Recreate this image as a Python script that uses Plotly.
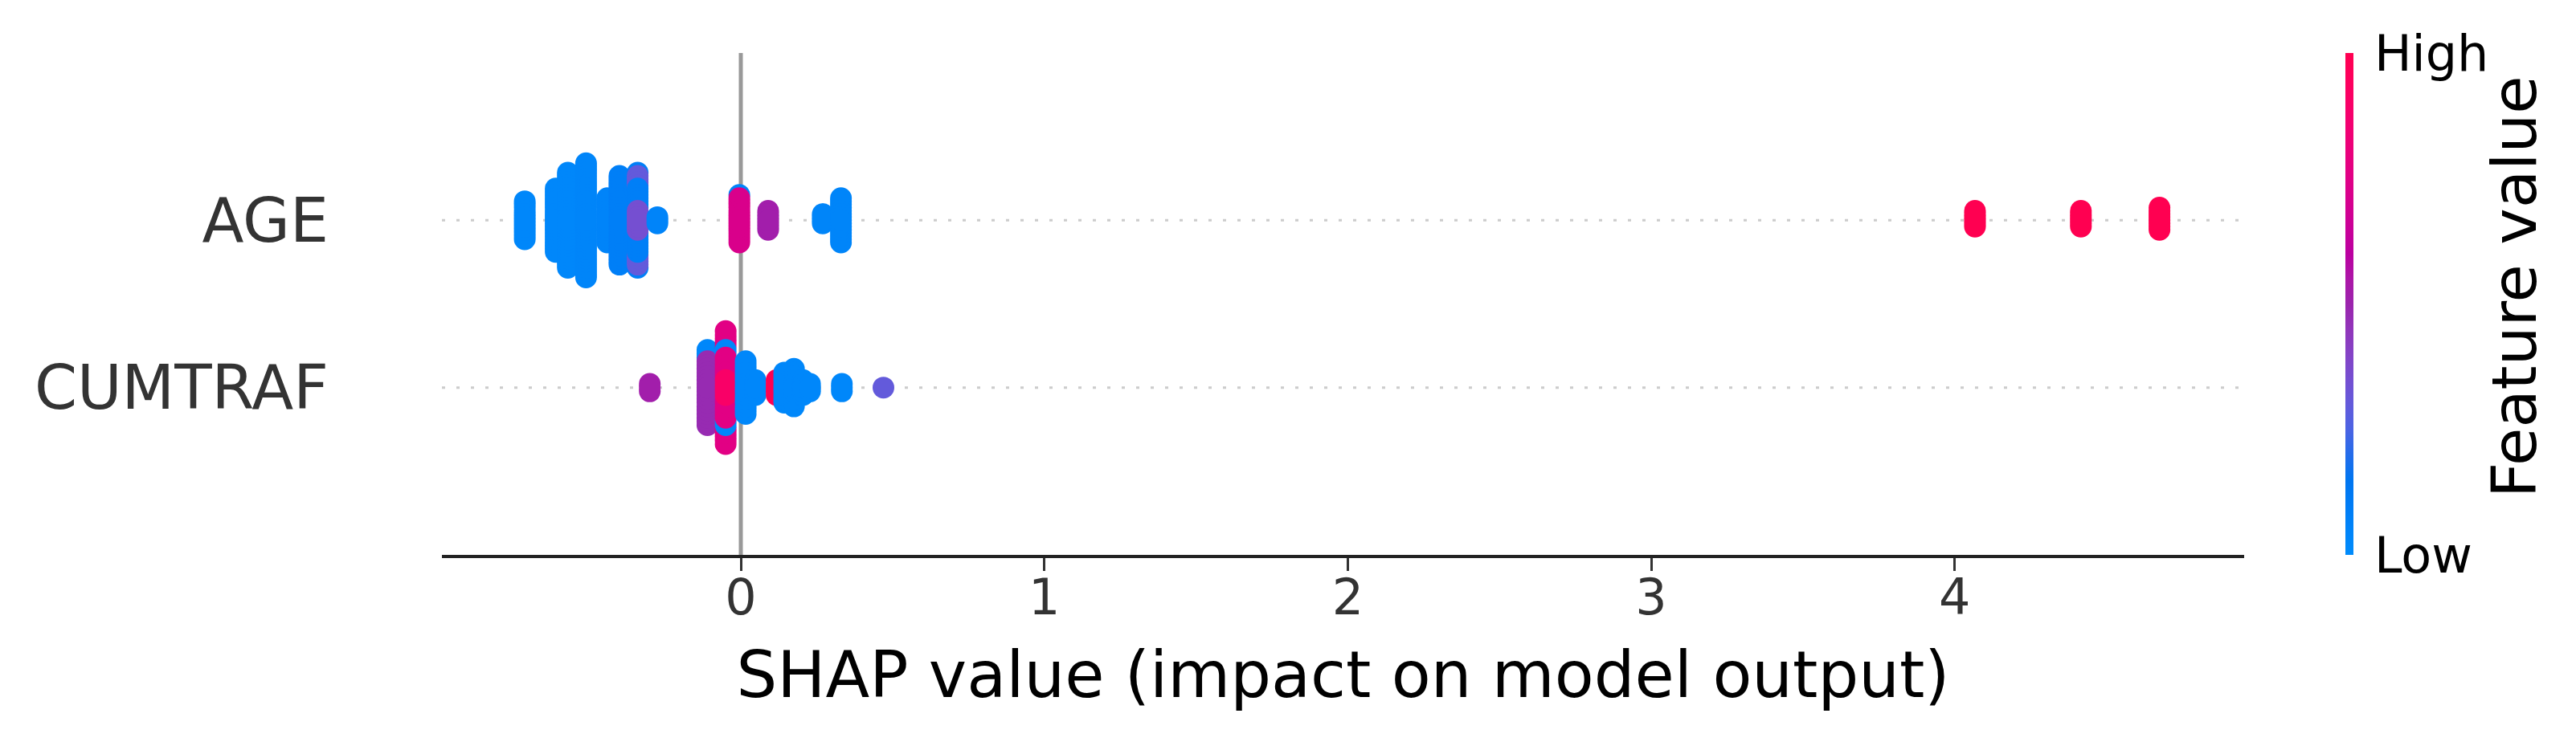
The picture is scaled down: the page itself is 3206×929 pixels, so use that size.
import numpy as np
import plotly.graph_objects as go

# rows from bottom to top
FEATURES = ["CUMTRAF", "AGE"]

# AGE: runs of samples (SHAP value, normalised feature value, number of samples)
AGE_SHAP = [-0.712, -0.61, -0.57, -0.51, -0.44, -0.40, -0.34, -0.34, -0.34, -0.34, -0.275,
            -0.005, -0.005, 0.09, 0.27, 0.33, 4.067, 4.416, 4.675]
AGE_FEAT = [0.03, 0.03, 0.03, 0.04, 0.05, 0.08, 0.35, 0.08, 0.30, 0.08, 0.05,
            0.72, 0.05, 0.52, 0.04, 0.04, 1.0, 1.0, 1.0]
AGE_COUNT = [13, 21, 31, 37, 15, 29, 7, 14, 8, 2, 3, 15, 1, 7, 4, 15, 6, 6, 8]

# CUMTRAF
CUM_SHAP = [-0.30, -0.11, -0.11, -0.11, -0.11, -0.11, -0.11, -0.11,
            -0.05, -0.05, -0.05, -0.05, 0.005, 0.016, 0.048, 0.118,
            0.143, 0.175, 0.205, 0.228, 0.333, 0.47]
CUM_FEAT = [0.52, 0.48, 0.03, 0.48, 0.03, 0.48, 0.03, 0.48,
            0.90, 0.76, 0.03, 0.76, 0.90, 0.03, 0.03, 1.0,
            0.03, 0.03, 0.03, 0.03, 0.03, 0.30]
CUM_COUNT = [3, 15, 1, 1, 1, 1, 1, 1,
             5, 12, 4, 10, 1, 15, 5, 5,
             9, 11, 5, 3, 3, 1]

X_TICKS = [0, 1, 2, 3, 4]


def lch_to_rgb(l, c, h):
    a, b = c * np.cos(h), c * np.sin(h)
    fy = (l + 16) / 116
    f = np.array([fy + a / 500, fy, fy - b / 200])
    xyz = np.where(f ** 3 > 0.008856, f ** 3, (f - 16 / 116) / 7.787) * np.array([0.95047, 1.0, 1.08883])
    m = np.array([[3.2406, -1.5372, -0.4986], [-0.9689, 1.8758, 0.0415], [0.0557, -0.2040, 1.0570]])
    rgb = m @ xyz
    rgb = np.where(rgb > 0.0031308, 1.055 * np.abs(rgb) ** (1 / 2.4) - 0.055, 12.92 * rgb)
    return np.clip(rgb, 0, 1)


def red_blue(n=21):
    # shap's red_blue colormap, interpolated in LCH space
    scale = []
    for t in np.linspace(0, 1, n):
        l = 54 - 28 * t if t < 0.5 else 40 + 28 * (t - 0.5)
        c = 70 + 20 * t
        h = 4.6588 + (0.35470565 + 2 * np.pi - 4.6588) * t
        r, g, b = (lch_to_rgb(l, c, h) * 255).round().astype(int)
        scale.append([float(t), f"rgb({r},{g},{b})"])
    return scale


def beeswarm(shap, feat, count, row_height=0.4, nbins=100):
    x = np.repeat(shap, count).astype(float)
    c = np.repeat(feat, count).astype(float)
    quant = np.round(nbins * (x - x.min()) / (x.max() - x.min() + 1e-8))
    ys = np.zeros(len(x))
    layers = np.zeros(len(x), dtype=int)
    layer, last = 0, None
    for i in np.argsort(quant, kind="stable"):
        if quant[i] != last:
            layer = 0
        ys[i] = np.ceil(layer / 2) * ((layer % 2) * 2 - 1)
        layers[i] = layer
        layer += 1
        last = quant[i]
    ys *= 0.9 * (row_height / np.max(ys + 1))
    order = np.lexsort((-layers, quant))
    return x[order], ys[order], c[order]


COLORSCALE = red_blue()
FONT = "DejaVu Sans"

fig = go.Figure()

rows = [(CUM_SHAP, CUM_FEAT, CUM_COUNT), (AGE_SHAP, AGE_FEAT, AGE_COUNT)]
for pos, (shap, feat, count) in enumerate(rows):
    x, ys, c = beeswarm(shap, feat, count)
    fig.add_trace(go.Scatter(
        x=x, y=pos + ys, mode="markers", name=FEATURES[pos],
        marker=dict(
            size=27, color=c, colorscale=COLORSCALE, cmin=0, cmax=1,
            line=dict(width=0), opacity=1,
            showscale=(pos == 0),
            colorbar=dict(
                thickness=10, thicknessmode="pixels", len=1.0, lenmode="fraction",
                x=1.0562, xanchor="left", xpad=0, y=0.5, yanchor="middle", ypad=0,
                outlinewidth=0, tickvals=[0, 1], ticktext=["Low", "High"],
                ticks="outside", ticklen=14, tickcolor="rgba(0,0,0,0)",
                tickfont=dict(family=FONT, size=62, color="#000000"),
            ),
        ),
        hoverinfo="x",
    ))

# dotted row guides and zero line
for pos in range(len(FEATURES)):
    fig.add_shape(type="line", xref="paper", x0=0, x1=1, y0=pos, y1=pos, layer="below",
                  line=dict(color="#cccccc", width=3, dash="4px,14px"))
fig.add_shape(type="line", x0=0, x1=0, y0=-1, y1=2, layer="below",
              line=dict(color="#999999", width=5))

fig.add_annotation(text="Feature value", xref="paper", yref="paper", x=1.15, y=0.535,
                   textangle=-90, showarrow=False, xanchor="center", yanchor="middle",
                   font=dict(family=FONT, size=77, color="#000000"))

fig.update_layout(
    width=3206, height=929,
    margin=dict(l=542, r=421, t=58, b=246),
    paper_bgcolor="white", plot_bgcolor="white",
    showlegend=False,
    font=dict(family=FONT, color="#333333"),
)
fig.update_xaxes(
    range=[-0.985, 4.954], tickvals=X_TICKS, showgrid=False, zeroline=False,
    showline=True, linecolor="#222222", linewidth=4,
    ticks="outside", ticklen=16, tickwidth=3, tickcolor="#333333",
    ticklabelstandoff=-20,
    tickfont=dict(family=FONT, size=62, color="#333333"),
    title=dict(text="SHAP value (impact on model output)", standoff=34,
               font=dict(family=FONT, size=80, color="#000000")),
    automargin=False,
)
fig.update_yaxes(
    range=[-1, 2], tickvals=list(range(len(FEATURES))), ticktext=FEATURES,
    showgrid=False, zeroline=False, showline=False, ticks="",
    ticklabelstandoff=140,
    tickfont=dict(family=FONT, size=76, color="#333333"),
    automargin=False,
)

fig.write_html("out.html")
